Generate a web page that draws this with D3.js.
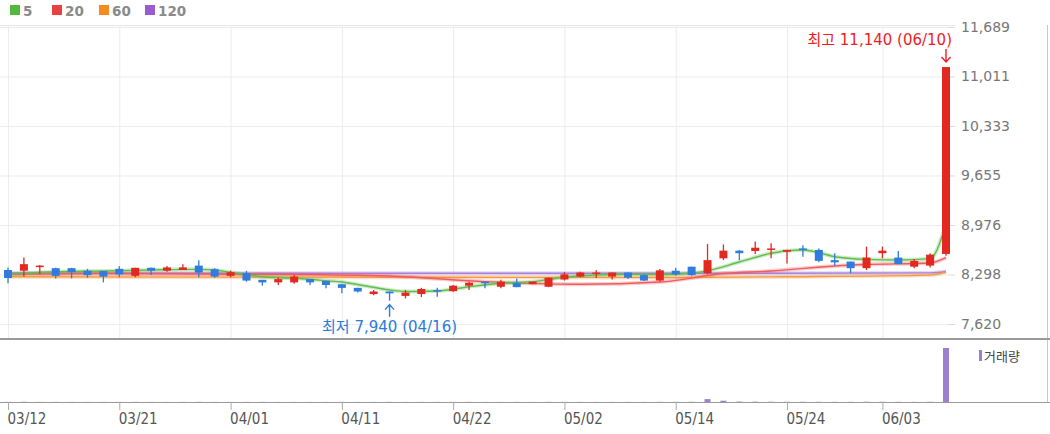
<!DOCTYPE html>
<html>
<head>
<meta charset="utf-8">
<script src="https://cdn.jsdelivr.net/npm/d3@7"></script>
<style>
    body { margin: 0; background: #fff; }
    svg { display: block; font-family: "DejaVu Sans", "Noto Sans CJK KR", sans-serif; }
</style>
</head>
<body>
<div id="chart"></div>
<script>

// trading days shown on the chart (2024)
const dates = [
    "03/12","03/13","03/14","03/15","03/18","03/19","03/20","03/21","03/22","03/25",
    "03/26","03/27","03/28","03/29","04/01","04/02","04/03","04/04","04/05","04/08",
    "04/09","04/11","04/12","04/15","04/16","04/17","04/18","04/19","04/22","04/23",
    "04/24","04/25","04/26","04/29","04/30","05/02","05/03","05/07","05/08","05/09",
    "05/10","05/13","05/14","05/16","05/17","05/20","05/21","05/22","05/23","05/24",
    "05/27","05/28","05/29","05/30","05/31","06/03","06/04","06/05","06/07","06/10"
];

const opens = [
    8360, 8350, 8400, 8385, 8385, 8350, 8345, 8375, 8280, 8390,
    8350, 8360, 8420, 8370, 8280, 8315, 8225, 8190, 8190, 8235,
    8210, 8165, 8115, 8030, 8065, 8005, 8030, 8085, 8070, 8145,
    8200, 8130, 8180, 8165, 8130, 8230, 8270, 8305, 8270, 8325,
    8290, 8215, 8350, 8405, 8315, 8520, 8625, 8620, 8635, 8610,
    8655, 8635, 8495, 8475, 8385, 8590, 8530, 8405, 8420, 8580
];
const highs = [
    8395, 8530, 8430, 8390, 8390, 8375, 8345, 8410, 8390, 8395,
    8415, 8440, 8495, 8385, 8350, 8350, 8225, 8260, 8290, 8235,
    8210, 8165, 8115, 8085, 8065, 8085, 8115, 8115, 8155, 8200,
    8200, 8225, 8245, 8200, 8255, 8330, 8335, 8355, 8325, 8325,
    8300, 8375, 8390, 8405, 8715, 8710, 8635, 8750, 8725, 8635,
    8700, 8655, 8590, 8475, 8680, 8680, 8620, 8510, 8590, 11140
];
const lows = [
    8180, 8270, 8305, 8245, 8245, 8255, 8190, 8260, 8260, 8290,
    8335, 8360, 8260, 8255, 8260, 8200, 8145, 8155, 8170, 8155,
    8110, 8040, 8050, 8015, 7940, 7970, 7990, 7995, 8060, 8085,
    8110, 8110, 8125, 8165, 8125, 8215, 8260, 8250, 8230, 8235,
    8210, 8200, 8280, 8280, 8300, 8495, 8495, 8580, 8520, 8450,
    8540, 8465, 8420, 8315, 8360, 8520, 8440, 8385, 8395, 8555
];
const closes = [
    8250, 8440, 8420, 8280, 8330, 8290, 8270, 8300, 8390, 8350,
    8395, 8395, 8325, 8270, 8330, 8215, 8190, 8235, 8270, 8190,
    8155, 8115, 8065, 8065, 8040, 8050, 8100, 8070, 8145, 8185,
    8180, 8200, 8125, 8200, 8255, 8300, 8325, 8325, 8325, 8255,
    8215, 8355, 8300, 8290, 8495, 8625, 8590, 8665, 8655, 8635,
    8635, 8485, 8465, 8385, 8530, 8625, 8440, 8485, 8570, 11140
];
const volumes = [
    62000, 95000, 48000, 51000, 40000, 37000, 44000, 39000, 58000, 35000,
    31000, 42000, 66000, 41000, 38000, 47000, 52000, 33000, 36000, 30000,
    45000, 49000, 41000, 43000, 57000, 39000, 46000, 44000, 40000, 52000,
    34000, 38000, 47000, 29000, 61000, 55000, 48000, 36000, 33000, 41000,
    37000, 72000, 64000, 85000, 1250000, 560000, 180000, 150000, 120000, 95000,
    88000, 76000, 70000, 64000, 110000, 90000, 72000, 58000, 96000, 23500000
];

// moving averages at key days
const ma5 = [
    ["03/12",8298],["03/15",8337],["03/20",8346],["03/25",8360],["03/28",8369],
    ["03/29",8360],["04/01",8328],["04/03",8268],["04/05",8246],["04/09",8213],
    ["04/11",8195],["04/12",8161],["04/16",8086],["04/17",8065],["04/19",8072],
    ["04/23",8131],["04/25",8178],["04/29",8200],["05/02",8260],["05/07",8291],
    ["05/09",8301],["05/13",8298],["05/16",8315],["05/17",8350],["05/21",8469],
    ["05/23",8589],["05/24",8624],["05/27",8634],["05/28",8597],["05/29",8542],
    ["05/31",8506],["06/04",8497],["06/07",8515],["06/10",8990]
];
const ma20 = [
    ["03/12",8301],["03/20",8312],["04/01",8301],["04/05",8298],["04/16",8278],
    ["04/24",8200],["05/03",8164],["05/13",8195],["05/20",8312],["05/23",8346],
    ["05/29",8415],["05/31",8435],["06/07",8456],["06/10",8528]
];
const ma60 = [
    ["03/12",8268],["04/01",8262],["04/22",8260],["05/14",8258],["05/24",8268],
    ["06/07",8290],["06/10",8330]
];
const ma120 = [
    ["03/12",8318],["04/01",8316],["04/22",8316],["05/14",8315],["06/07",8320],
    ["06/10",8340]
];

const yTicks = [7620, 8298, 8976, 9655, 10333, 11011, 11689];
const xTickDates = ["03/12","03/21","04/01","04/11","04/22","05/02","05/14","05/24","06/03"];

const legendItems = [
    {label: "5", color: "#52b83e"},
    {label: "20", color: "#e8413f"},
    {label: "60", color: "#f58a1f"},
    {label: "120", color: "#9a5bd0"}
];


class CandleVis {

    constructor(parentElement) {
        this.parentElement = parentElement;
        this.initVis();
    }

    initVis() {
        let vis = this;

        vis.width = 1050;
        vis.height = 434;
        vis.priceTop = 25;
        vis.priceBottom = 338;
        vis.volBottom = 402;
        vis.gridRight = 948;

        vis.svg = d3.select("#" + vis.parentElement).append("svg")
            .attr("width", vis.width)
            .attr("height", vis.height);

        vis.x = d3.scalePoint()
            .domain(dates)
            .range([8, 946]);

        vis.y = d3.scaleLinear()
            .domain([7620, 11689])
            .range([324, 27]);

        vis.yVol = d3.scaleLinear()
            .domain([0, d3.max(volumes)])
            .range([vis.volBottom, 348]);

        vis.wrangleData();
    }

    wrangleData() {
        let vis = this;

        vis.candles = dates.map((d, i) => ({
            date: d, open: opens[i], high: highs[i], low: lows[i], close: closes[i], volume: volumes[i]
        }));

        vis.maLines = [
            {data: ma120, color: "#a77fdc"},
            {data: ma60, color: "#f59a42"},
            {data: ma20, color: "#ee5d5d"},
            {data: ma5, color: "#62bd4f"}
        ];

        vis.updateVis();
    }

    updateVis() {
        let vis = this;

        // legend
        let legend = vis.svg.append("g").attr("class", "legend");
        let lx = [10, 52, 99, 145];
        legendItems.forEach((d, i) => {
            legend.append("rect")
                .attr("x", lx[i]).attr("y", 5)
                .attr("width", 10).attr("height", 10)
                .attr("fill", d.color);
            legend.append("text")
                .attr("x", lx[i] + 13).attr("y", 15.5)
                .attr("font-size", 13.5).attr("font-weight", "bold")
                .attr("fill", "#8a8a8a")
                .text(d.label);
        });

        // frame lines
        vis.svg.append("line")
            .attr("x1", 0).attr("x2", vis.gridRight + 7)
            .attr("y1", vis.priceTop + 0.5).attr("y2", vis.priceTop + 0.5)
            .attr("stroke", "#e6e6e6");
        vis.svg.append("line")
            .attr("x1", 1047.5).attr("x2", 1047.5)
            .attr("y1", vis.priceTop).attr("y2", vis.volBottom)
            .attr("stroke", "#c8c8c8");

        // horizontal grid
        vis.svg.append("g")
            .attr("class", "grid")
            .call(d3.axisLeft(vis.y).tickValues(yTicks).tickSize(-vis.gridRight).tickFormat(""))
            .call(g => g.select(".domain").remove())
            .call(g => g.selectAll("line").attr("stroke", "#ececec"));

        // vertical grid
        vis.svg.append("g")
            .attr("class", "grid")
            .attr("transform", `translate(0, ${vis.priceBottom})`)
            .call(d3.axisBottom(vis.x).tickValues(xTickDates).tickSize(-(vis.priceBottom - vis.priceTop)).tickFormat(""))
            .call(g => g.select(".domain").remove())
            .call(g => g.selectAll("line").attr("stroke", "#ececec"));

        // right price axis
        vis.svg.append("g")
            .attr("class", "y-axis")
            .attr("transform", `translate(${vis.gridRight}, 0)`)
            .call(d3.axisRight(vis.y).tickValues(yTicks).tickSize(7).tickPadding(6).tickFormat(d3.format(",")))
            .call(g => g.select(".domain").remove())
            .call(g => g.selectAll("line").attr("stroke", "#dcdcdc"))
            .call(g => g.selectAll("text").attr("font-size", 14).attr("fill", "#777")
                .attr("font-family", "DejaVu Sans"));

        // moving averages
        let line = d3.line()
            .x(d => vis.x(d[0]))
            .y(d => vis.y(d[1]))
            .curve(d3.curveMonotoneX);

        let maG = vis.svg.append("g").attr("class", "ma");
        vis.maLines.forEach(m => {
            maG.append("path")
                .attr("d", line(m.data))
                .attr("fill", "none")
                .attr("stroke", m.color)
                .attr("stroke-opacity", 0.3)
                .attr("stroke-width", 4);
            maG.append("path")
                .attr("d", line(m.data))
                .attr("fill", "none")
                .attr("stroke", m.color)
                .attr("stroke-width", 1.4);
        });

        // candles
        let color = d => d.close >= d.open ? "#e2291f" : "#2f7bde";
        let bodyW = 8;

        let candle = vis.svg.append("g").attr("class", "candles")
            .selectAll("g")
            .data(vis.candles)
            .enter()
            .append("g");

        candle.append("line")
            .attr("x1", d => vis.x(d.date)).attr("x2", d => vis.x(d.date))
            .attr("y1", d => vis.y(d.high)).attr("y2", d => vis.y(d.low))
            .attr("stroke", color)
            .attr("stroke-width", 1.3);

        candle.append("rect")
            .attr("x", d => vis.x(d.date) - bodyW / 2)
            .attr("width", bodyW)
            .attr("y", d => vis.y(Math.max(d.open, d.close)))
            .attr("height", d => Math.max(1.5, Math.abs(vis.y(d.open) - vis.y(d.close))))
            .attr("fill", color);

        // high / low annotations
        let hi = vis.candles.reduce((a, b) => b.high > a.high ? b : a);
        let lo = vis.candles.reduce((a, b) => b.low < a.low ? b : a);

        vis.svg.append("text")
            .attr("x", vis.x(hi.date) + 6)
            .attr("y", vis.y(hi.high) - 22)
            .attr("text-anchor", "end")
            .attr("font-size", 15)
            .attr("fill", "#ef1d24")
            .text(`최고 ${d3.format(",")(hi.high)} (${hi.date})`);
        let hx = vis.x(hi.date), hy = vis.y(hi.high) - 5;
        vis.svg.append("path")
            .attr("d", `M${hx},${hy - 13} L${hx},${hy} M${hx - 4.5},${hy - 5} L${hx},${hy} L${hx + 4.5},${hy - 5}`)
            .attr("fill", "none")
            .attr("stroke", "#ef1d24")
            .attr("stroke-width", 1.4);

        vis.svg.append("text")
            .attr("x", vis.x(lo.date))
            .attr("y", vis.y(lo.low) + 31)
            .attr("text-anchor", "middle")
            .attr("font-size", 15)
            .attr("fill", "#2b7bd8")
            .text(`최저 ${d3.format(",")(lo.low)} (${lo.date})`);
        let lxp = vis.x(lo.date), ly = vis.y(lo.low) + 4;
        vis.svg.append("path")
            .attr("d", `M${lxp},${ly + 12} L${lxp},${ly} M${lxp - 4.5},${ly + 5} L${lxp},${ly} L${lxp + 4.5},${ly + 5}`)
            .attr("fill", "none")
            .attr("stroke", "#2b7bd8")
            .attr("stroke-width", 1.4);

        // panel separator
        vis.svg.append("rect")
            .attr("x", 0).attr("y", vis.priceBottom)
            .attr("width", vis.width).attr("height", 2)
            .attr("fill", "#9a9a9a");

        // volume bars
        vis.svg.append("g").attr("class", "volume")
            .selectAll("rect")
            .data(vis.candles)
            .enter()
            .append("rect")
            .attr("x", d => vis.x(d.date) - 3)
            .attr("width", 6)
            .attr("y", d => vis.yVol(d.volume))
            .attr("height", d => vis.volBottom - vis.yVol(d.volume))
            .attr("fill", "#9b80cf");

        vis.svg.append("rect")
            .attr("x", 979).attr("y", 350)
            .attr("width", 3).attr("height", 11)
            .attr("fill", "#9b80cf");
        vis.svg.append("text")
            .attr("x", 984).attr("y", 361)
            .attr("font-size", 13)
            .attr("font-family", "Noto Sans CJK KR")
            .attr("fill", "#444")
            .text("거래량");

        // x axis
        vis.svg.append("g")
            .attr("class", "x-axis")
            .attr("transform", `translate(0, ${vis.volBottom})`)
            .call(d3.axisBottom(vis.x).tickValues(xTickDates).tickSize(8).tickPadding(3))
            .call(g => g.select(".domain").attr("stroke", "#9a9a9a").attr("d", `M0,0.5H${vis.width}`))
            .call(g => g.selectAll("line").attr("stroke", "#aaa"))
            .call(g => g.selectAll("text")
                .attr("text-anchor", "start")
                .attr("x", -1)
                .attr("font-size", 15)
                .attr("font-family", "DejaVu Sans Condensed")
                .attr("fill", "#555"));
    }
}

new CandleVis("chart");

</script>
</body>
</html>
